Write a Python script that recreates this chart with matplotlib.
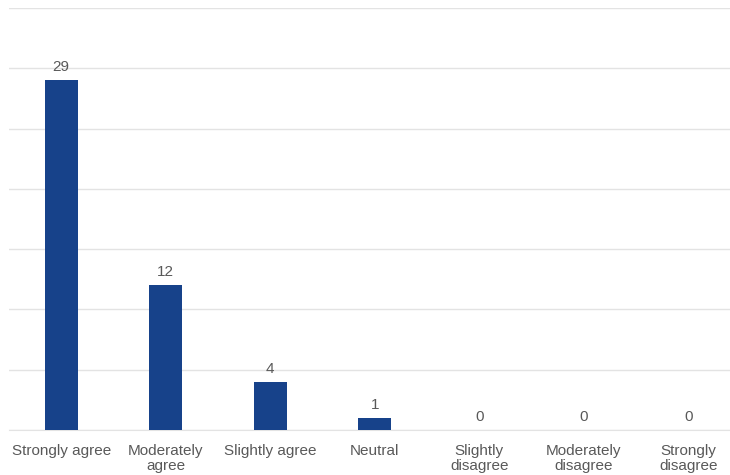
import matplotlib
matplotlib.use("Agg")
import matplotlib.pyplot as plt

plt.rcParams['font.family'] = ['Liberation Sans', 'DejaVu Sans']

# Survey responses
categories = ["Strongly agree", "Moderately\nagree", "Slightly agree", "Neutral",
              "Slightly\ndisagree", "Moderately\ndisagree", "Strongly\ndisagree"]
counts = [29, 12, 4, 1, 0, 0, 0]

bar_color = "#17428A"
text_color = "#595959"

fig = plt.figure(figsize=(7.3, 4.75), dpi=100)
ax = fig.add_axes([9/730, 45/475, 721/730, 422/475])

x = list(range(len(categories)))
bars = ax.bar(x, counts, width=0.32, color=bar_color, zorder=3)

for xi, v in zip(x, counts):
    ax.text(xi, v + 0.5, str(v), ha='center', va='bottom',
            fontsize=11, color=text_color)

ax.set_ylim(0, 35)
ax.set_xlim(-0.5, 6.4)
ax.set_yticks(range(0, 36, 5))
ax.set_yticklabels([])
ax.yaxis.grid(True, color="#e3e3e3", linewidth=1)
ax.tick_params(axis='y', length=0)
ax.tick_params(axis='x', length=0, pad=10, labelsize=11, labelcolor=text_color)
ax.set_xticks(x)
ax.set_xticklabels(categories, linespacing=1.1)

for side in ['top', 'right', 'left']:
    ax.spines[side].set_visible(False)
ax.spines['bottom'].set_color("#e3e3e3")

fig.savefig("out.png", dpi=100)
